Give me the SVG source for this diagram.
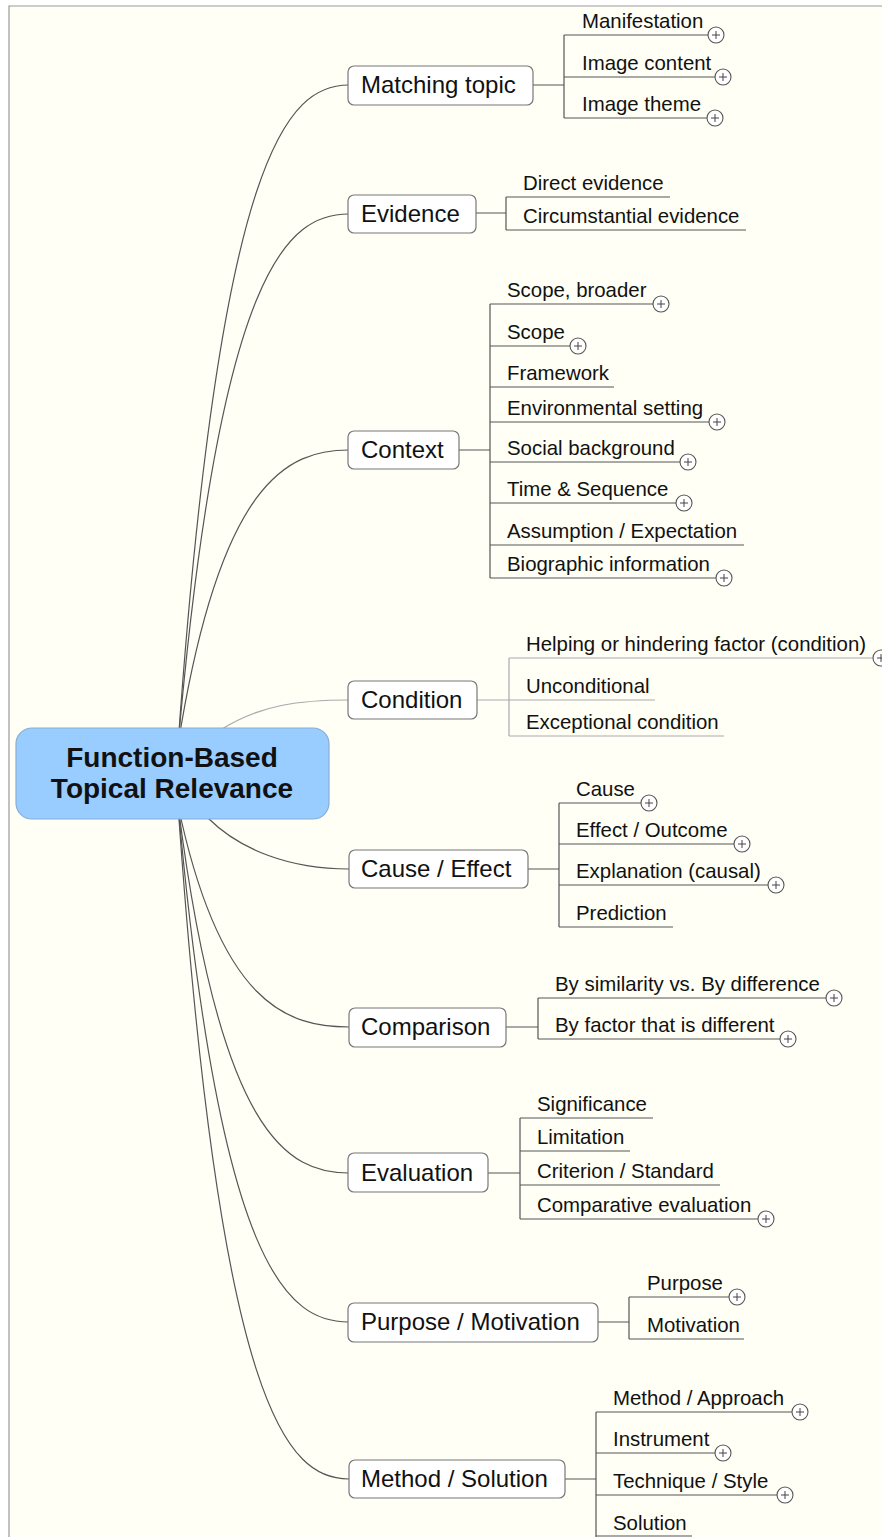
<svg xmlns="http://www.w3.org/2000/svg" xmlns:xlink="http://www.w3.org/1999/xlink" width="882" height="1537" viewBox="0 0 882 1537">
<style>
.bg{fill:#fffff6}
.frame{fill:none;stroke:#999;stroke-width:1.2}
.conn path,.conn line{fill:none;stroke:#555;stroke-width:1.2}
.conn .light{stroke:#aaa}
.topic rect{fill:#fff;stroke:#777;stroke-width:1.2}
.topic text{font-family:"Liberation Sans",Arial,sans-serif;font-size:24px;fill:#111}
.topic text.sub{font-size:20.4px}
.center rect{fill:#99ccff;stroke:#86aed6;stroke-width:1.2}
.center text{font-family:"Liberation Sans",Arial,sans-serif;font-size:28px;font-weight:bold;fill:#111;text-anchor:middle}
</style>
<defs>
<g id="plus">
<circle cx="0" cy="0" r="8" fill="#fff" stroke="#555" stroke-width="1.1"/>
<path d="M-4,0H4M0,-4V4" stroke="#444" stroke-width="1"/>
</g>
</defs>
<rect x="0" y="0" width="882" height="1537" fill="#fff"/>
<rect class="bg" x="9" y="6" width="873" height="1531"/>
<path class="frame" d="M9,1537V6H882"/>

<g class="conn" id="connectors">
<path d="M178,745 C220,151 288,85 349,85"/>
<path d="M178,745 C220,267 288,214 349,214"/>
<path d="M178,745 C220,480 288,450 349,450"/>
<path class="light" d="M222,729 C260,705 300,700 349,700"/>
<path d="M208,818 C240,850 290,869 349,869"/>
<path d="M178,805 C220,1005 288,1027 349,1027"/>
<path d="M178,805 C220,1136 288,1173 349,1173"/>
<path d="M178,805 C220,1270 288,1322 349,1322"/>
<path d="M178,805 C220,1412 288,1479 349,1479"/>
<path d="M533,85H564M564,35V118M564,35H708M564,77H715M564,118H707"/>
<path d="M476,213H506M506,197V230M506,197H670M506,230H746"/>
<path d="M459,450H490M490,304V578M490,304H653M490,346H570M490,387H614M490,422H709M490,462H680M490,503H676M490,545H744M490,578H716"/>
<path class="light" d="M477,700H509M509,658V736M509,658H873M509,700H655M509,736H724"/>
<path d="M528,869H559M559,803V927M559,803H641M559,844H734M559,885H768M559,927H673"/>
<path d="M506,1027H538M538,998V1039M538,998H826M538,1039H780"/>
<path d="M488,1173H520M520,1118V1219M520,1118H653M520,1151H630M520,1185H720M520,1219H758"/>
<path d="M598,1322H629M629,1297V1339M629,1297H729M629,1339H744"/>
<path d="M565,1479H596M596,1412V1537M596,1412H792M596,1453H715M596,1495H777M596,1536H692"/>
</g>

<g id="center" class="center">
<rect x="16" y="728" width="313" height="91" rx="16"/>
<text x="172" y="767">Function-Based</text>
<text x="172" y="798">Topical Relevance</text>
</g>

<g id="matching-topic" class="topic">
<rect x="348" y="66" width="185" height="39" rx="6"/>
<text x="361" y="93">Matching topic</text>
<text class="sub" x="582" y="28">Manifestation</text>
<use xlink:href="#plus" x="716" y="35"/>
<text class="sub" x="582" y="70">Image content</text>
<use xlink:href="#plus" x="723" y="77"/>
<text class="sub" x="582" y="111">Image theme</text>
<use xlink:href="#plus" x="715" y="118"/>
</g>

<g id="evidence" class="topic">
<rect x="348" y="195" width="128" height="38" rx="6"/>
<text x="361" y="222">Evidence</text>
<text class="sub" x="523" y="190">Direct evidence</text>
<text class="sub" x="523" y="223">Circumstantial evidence</text>
</g>

<g id="context" class="topic">
<rect x="348" y="431" width="111" height="38" rx="6"/>
<text x="361" y="458">Context</text>
<text class="sub" x="507" y="297">Scope, broader</text>
<use xlink:href="#plus" x="661" y="304"/>
<text class="sub" x="507" y="339">Scope</text>
<use xlink:href="#plus" x="578" y="346"/>
<text class="sub" x="507" y="380">Framework</text>
<text class="sub" x="507" y="415">Environmental setting</text>
<use xlink:href="#plus" x="717" y="422"/>
<text class="sub" x="507" y="455">Social background</text>
<use xlink:href="#plus" x="688" y="462"/>
<text class="sub" x="507" y="496">Time &amp; Sequence</text>
<use xlink:href="#plus" x="684" y="503"/>
<text class="sub" x="507" y="538">Assumption / Expectation</text>
<text class="sub" x="507" y="571">Biographic information</text>
<use xlink:href="#plus" x="724" y="578"/>
</g>

<g id="condition" class="topic">
<rect x="348" y="681" width="129" height="38" rx="6"/>
<text x="361" y="708">Condition</text>
<text class="sub" x="526" y="651">Helping or hindering factor (condition)</text>
<use xlink:href="#plus" x="881" y="658"/>
<text class="sub" x="526" y="693">Unconditional</text>
<text class="sub" x="526" y="729">Exceptional condition</text>
</g>

<g id="cause-effect" class="topic">
<rect x="349" y="850" width="179" height="38" rx="6"/>
<text x="361" y="877">Cause / Effect</text>
<text class="sub" x="576" y="796">Cause</text>
<use xlink:href="#plus" x="649" y="803"/>
<text class="sub" x="576" y="837">Effect / Outcome</text>
<use xlink:href="#plus" x="742" y="844"/>
<text class="sub" x="576" y="878">Explanation (causal)</text>
<use xlink:href="#plus" x="776" y="885"/>
<text class="sub" x="576" y="920">Prediction</text>
</g>

<g id="comparison" class="topic">
<rect x="349" y="1008" width="157" height="39" rx="6"/>
<text x="361" y="1035">Comparison</text>
<text class="sub" x="555" y="991">By similarity vs. By difference</text>
<use xlink:href="#plus" x="834" y="998"/>
<text class="sub" x="555" y="1032">By factor that is different</text>
<use xlink:href="#plus" x="788" y="1039"/>
</g>

<g id="evaluation" class="topic">
<rect x="348" y="1153" width="140" height="39" rx="6"/>
<text x="361" y="1181">Evaluation</text>
<text class="sub" x="537" y="1111">Significance</text>
<text class="sub" x="537" y="1144">Limitation</text>
<text class="sub" x="537" y="1178">Criterion / Standard</text>
<text class="sub" x="537" y="1212">Comparative evaluation</text>
<use xlink:href="#plus" x="766" y="1219"/>
</g>

<g id="purpose-motivation" class="topic">
<rect x="348" y="1303" width="250" height="39" rx="6"/>
<text x="361" y="1330">Purpose / Motivation</text>
<text class="sub" x="647" y="1290">Purpose</text>
<use xlink:href="#plus" x="737" y="1297"/>
<text class="sub" x="647" y="1332">Motivation</text>
</g>

<g id="method-solution" class="topic">
<rect x="349" y="1460" width="216" height="38" rx="6"/>
<text x="361" y="1487">Method / Solution</text>
<text class="sub" x="613" y="1405">Method / Approach</text>
<use xlink:href="#plus" x="800" y="1412"/>
<text class="sub" x="613" y="1446">Instrument</text>
<use xlink:href="#plus" x="723" y="1453"/>
<text class="sub" x="613" y="1488">Technique / Style</text>
<use xlink:href="#plus" x="785" y="1495"/>
<text class="sub" x="613" y="1530">Solution</text>
</g>
</svg>
